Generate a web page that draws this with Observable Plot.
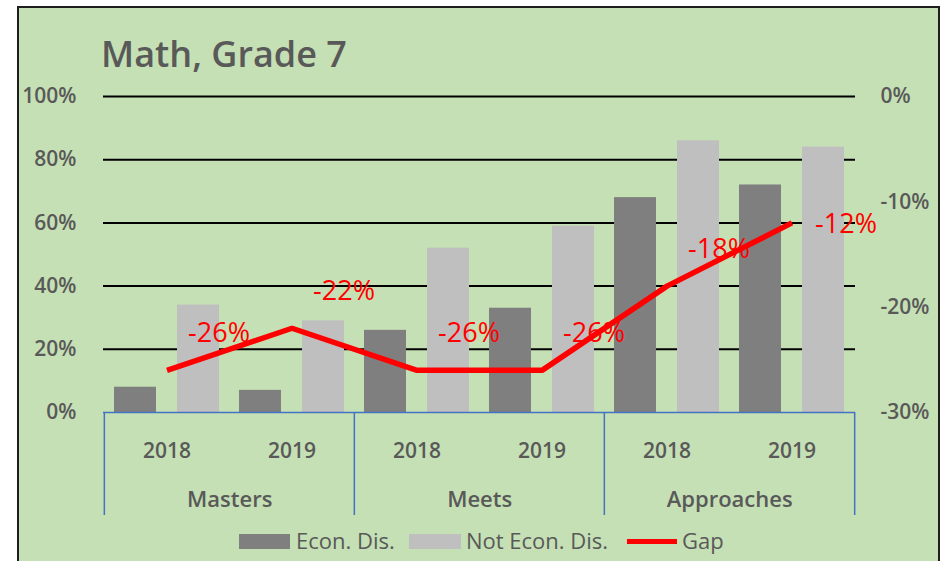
<!DOCTYPE html>
<html>
<head>
<meta charset="utf-8">
<script src="https://cdn.jsdelivr.net/npm/d3@7"></script>
<script src="https://cdn.jsdelivr.net/npm/@observablehq/plot@0.6"></script>
<style>
  html, body { margin: 0; padding: 0; background: #fff; overflow: hidden; width: 945px; height: 561px; }
  #frame { position: absolute; left: 17px; top: 6px; width: 923px; height: 620px; box-sizing: border-box;
           border: 2px solid #1e1e1e; background: #c5e0b4; }
  #title { position: absolute; left: 101px; top: 36px; font: 600 36px "Open Sans", sans-serif; color: #595959; line-height: 36px; white-space: nowrap; }
  #chart { position: absolute; left: 0; top: 0; }
  .lg { position: absolute; font: 400 22px "Open Sans", sans-serif; color: #595959; line-height: 22px; white-space: nowrap; }
  .sw { position: absolute; }
</style>
</head>
<body>
<div id="frame"></div>
<div id="title">Math, Grade 7</div>
<div id="chart"></div>
<div class="sw" style="left:239px; top:534px; width:51px; height:15px; background:#7f7f7f"></div>
<div class="lg" style="left:296px; top:529px">Econ. Dis.</div>
<div class="sw" style="left:409px; top:534px; width:52px; height:15px; background:#bfbfbf"></div>
<div class="lg" style="left:466px; top:529px">Not Econ. Dis.</div>
<div class="sw" style="left:627px; top:539px; width:50px; height:5px; background:#ff0000"></div>
<div class="lg" style="left:682px; top:529px">Gap</div>
<script>
// ---- data ----
const groups = ["Masters", "Masters", "Meets", "Meets", "Approaches", "Approaches"];
const years = ["2018", "2019", "2018", "2019", "2018", "2019"];
const econDis = [8, 7, 26, 33, 68, 72];
const notEconDis = [34, 29, 52, 59, 86, 84];
const gap = [-26, -22, -26, -26, -18, -12];
const leftTicks = [0, 20, 40, 60, 80, 100];
const rightTicks = [0, -10, -20, -30];
const groupNames = ["Masters", "Meets", "Approaches"];

// ---- build table ----
const rows = groups.map((g, i) => ({
  key: g + "|" + years[i], group: g, year: years[i],
  econ: econDis[i], notEcon: notEconDis[i], gap: gap[i], idx: i
}));
const keys = rows.map(d => d.key);
const firstOfGroup = groupNames.map(g => rows.find(r => r.group === g));
const lastRow = [rows[rows.length - 1]];

// secondary axis (-30%..0%) mapped onto primary (0..100)
const toLeft = g => (g + 30) / 30 * 100;
const fromLeft = v => Math.round(v * 30 / 100 - 30);

const W = 945, H = 525, ML = 103, MR = 90, MT = 96, MB = 113;
const bw = (W - ML - MR) / keys.length;
const txt = "#595959";

const chart = Plot.plot({
  width: W, height: H,
  marginLeft: ML, marginRight: MR, marginTop: MT, marginBottom: MB,
  style: { background: "transparent", fontFamily: "'Open Sans', sans-serif", overflow: "visible" },
  x: { type: "band", domain: keys, padding: 0, axis: null },
  y: { domain: [0, 100] },
  marks: [
    Plot.ruleY(leftTicks.filter(d => d > 0), { stroke: "#000", strokeWidth: 2 }),
    Plot.barY(rows, { x: "key", y: "econ", fill: "#7f7f7f", insetLeft: 10, insetRight: 73 }),
    Plot.barY(rows, { x: "key", y: "notEcon", fill: "#bfbfbf", insetLeft: 73, insetRight: 10 }),
    Plot.ruleY([0], { stroke: "#4472c4", strokeWidth: 1.5 }),
    Plot.ruleX(firstOfGroup, { x: "key", y1: 0, y2: -32.6, dx: -bw / 2, stroke: "#4472c4", strokeWidth: 1.5 }),
    Plot.ruleX(lastRow, { x: "key", y1: 0, y2: -32.6, dx: bw / 2, stroke: "#4472c4", strokeWidth: 1.5 }),
    Plot.axisY({ anchor: "left", ticks: leftTicks, tickFormat: d => d + "%", tickSize: 0, tickPadding: 27,
      fontSize: 21, fontWeight: 600, fill: txt, label: null }),
    Plot.axisY({ anchor: "right", ticks: rightTicks.map(toLeft), tickFormat: v => fromLeft(v) + "%", tickSize: 0,
      tickPadding: 25, fontSize: 21, fontWeight: 600, fill: txt, label: null }),
    Plot.text(rows, { x: "key", text: "year", frameAnchor: "bottom", lineAnchor: "middle", dy: 39,
      fontSize: 21, fontWeight: 600, fill: txt }),
    Plot.text(firstOfGroup, { x: "key", text: "group", frameAnchor: "bottom", lineAnchor: "middle", dx: bw / 2, dy: 87,
      fontSize: 22, fontWeight: 600, fill: txt }),
    Plot.line(rows, { x: "key", y: d => toLeft(d.gap), stroke: "#ff0000", strokeWidth: 5.5, strokeLinejoin: "miter", strokeLinecap: "butt" }),
    Plot.text(rows.filter(d => d.idx < rows.length - 1), { x: "key", y: d => toLeft(d.gap), text: d => d.gap + "%",
      dx: 52, dy: -37, fontSize: 27, fill: "#ff0000" }),
    Plot.text(lastRow, { x: "key", y: d => toLeft(d.gap), text: d => d.gap + "%",
      dx: 54, dy: 1, fontSize: 27, fill: "#ff0000" })
  ]
});
document.getElementById("chart").appendChild(chart);
</script>
</body>
</html>
